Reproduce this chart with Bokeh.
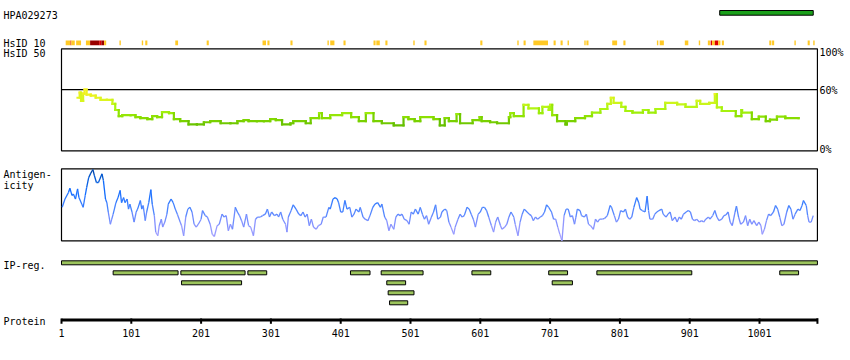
from bokeh.plotting import figure
from bokeh.models import Range1d
from bokeh.core.properties import value
from bokeh.embed import file_html
from bokeh.resources import INLINE

# ---------------- data ----------------
ANTIBODY = "HPA029273"
PROTEIN_LEN = 1084
ANTIGEN_START, ANTIGEN_END = 944, 1078

# HsID 10 identity marks: start, end, level (1 = partial, 2 = high, 3 = very high)
HS10_START = [7, 14, 15, 22, 36, 42, 55, 58, 62, 84, 116, 121, 164, 209, 289, 296, 329, 382, 386, 405,
              448, 452, 465, 505, 521, 601, 654, 663, 677, 706, 716, 726, 750, 753, 790, 806, 854, 858,
              894, 914, 927, 931, 933, 937, 942, 947, 1015, 1019, 1051, 1070, 1078]
HS10_END = [14, 15, 20, 29, 42, 55, 58, 62, 65, 86, 118, 124, 168, 212, 294, 299, 332, 384, 392, 408,
            451, 457, 468, 507, 524, 604, 656, 666, 698, 709, 719, 728, 752, 756, 797, 809, 856, 864,
            899, 916, 930, 933, 937, 942, 945, 950, 1018, 1022, 1053, 1073, 1080]
HS10_LEVEL = [1, 2, 1, 1, 1, 3, 2, 3, 1, 1, 1, 1, 1, 1, 1, 1, 1, 1, 1, 1,
              1, 1, 1, 1, 1, 1, 1, 1, 1, 1, 1, 1, 1, 1, 1, 1, 1, 1,
              1, 1, 1, 2, 1, 2, 1, 1, 1, 1, 1, 1, 1]

# HsID 50 (percent identity), step line
H50_POS = [24, 27, 29, 32, 34, 37, 43, 50, 57, 66,
           74, 78, 83, 88, 100, 107, 114, 124, 131, 138,
           145, 155, 162, 171, 183, 195, 205, 214, 229, 243,
           253, 262, 269, 281, 291, 300, 308, 317, 329, 333,
           351, 358, 370, 374, 386, 403, 416, 427, 437, 448,
           460, 477, 491, 498, 507, 515, 534, 543, 550, 556,
           567, 572, 590, 600, 603, 615, 625, 642, 644, 649,
           663, 670, 685, 690, 699, 701, 704, 711, 723, 725,
           737, 751, 761, 773, 783, 788, 792, 803, 809, 819,
           834, 842, 852, 866, 883, 895, 911, 916, 929, 937,
           940, 947, 967, 975, 976, 990, 1000, 1010, 1016, 1026,
           1038, 1057]
H50_VAL = [52, 57, 49, 56, 60, 55, 54, 52, 50, 50,
           46, 40, 34, 35, 35, 33, 32, 31, 34, 33,
           38, 37, 31, 29, 26, 26, 28, 29, 27, 27,
           29, 30, 29, 29, 29, 31, 30, 26, 27, 29,
           27, 32, 37, 32, 35, 37, 33, 29, 37, 29,
           27, 25, 33, 31, 29, 33, 31, 25, 32, 29,
           36, 27, 30, 33, 29, 28, 27, 33, 37, 34,
           45, 41.5, 37, 43, 40, 45, 35, 29, 26, 29,
           32, 34, 37.5, 41, 46, 52, 47, 43, 39, 37.5,
           40, 37.5, 41, 47, 45.5, 43, 49, 46, 47, 55.5,
           42.5, 39, 34, 40, 37.5, 31, 33.5, 29, 30.5, 33.5,
           32, 32]

# Antigenicity (relative, 0-100)
AG_POS = [2, 6, 11, 13, 16, 18, 21, 24, 26, 30,
          32, 35, 37, 40, 43, 46, 48, 51, 54, 56,
          59, 61, 64, 66, 68, 71, 73, 75, 79, 82,
          85, 87, 90, 92, 95, 97, 99, 102, 105, 108,
          110, 114, 116, 118, 121, 123, 126, 129, 131, 134,
          136, 139, 141, 144, 146, 149, 152, 154, 158, 161,
          164, 167, 171, 173, 176, 179, 182, 185, 188, 191,
          194, 197, 201, 203, 207, 210, 214, 217, 220, 224,
          227, 231, 234, 237, 240, 243, 246, 250, 253, 256,
          259, 262, 266, 269, 272, 276, 279, 282, 286, 289,
          293, 296, 299, 302, 306, 310, 312, 315, 318, 322,
          324, 326, 330, 333, 337, 341, 344, 347, 350, 353,
          356, 359, 362, 366, 369, 373, 376, 380, 384, 386,
          390, 393, 396, 398, 401, 404, 407, 410, 414, 417,
          420, 423, 427, 429, 433, 436, 440, 443, 447, 450,
          454, 458, 460, 464, 467, 470, 473, 477, 480, 483,
          486, 489, 492, 496, 499, 502, 505, 508, 512, 515,
          518, 521, 524, 527, 531, 534, 537, 540, 544, 546,
          550, 553, 556, 559, 563, 565, 569, 572, 575, 578,
          582, 585, 588, 591, 594, 598, 601, 604, 607, 610,
          613, 617, 620, 623, 626, 630, 632, 636, 639, 642,
          645, 649, 651, 655, 658, 661, 664, 668, 671, 674,
          677, 680, 683, 687, 690, 693, 696, 699, 703, 706,
          709, 712, 715, 718, 721, 724, 727, 730, 733, 736,
          738, 740, 744, 746, 750, 753, 756, 759, 763, 766,
          769, 772, 776, 779, 783, 787, 789, 793, 796, 799,
          802, 806, 809, 812, 815, 818, 821, 825, 828, 830,
          833, 837, 840, 842, 844, 848, 851, 854, 857, 861,
          863, 867, 870, 873, 876, 880, 883, 886, 889, 892,
          896, 899, 902, 905, 908, 911, 915, 918, 921, 924,
          928, 930, 934, 937, 940, 943, 947, 950, 953, 956,
          959, 962, 966, 968, 971, 974, 978, 981, 984, 987,
          990, 993, 997, 1000, 1003, 1005, 1008, 1011, 1014, 1017,
          1021, 1024, 1027, 1030, 1033, 1036, 1040, 1043, 1046, 1049,
          1052, 1056, 1059, 1062, 1064, 1068, 1070, 1072, 1075, 1078]
AG_VAL = [46.5, 58, 67, 73, 63, 65, 58, 72, 60, 51,
          46.5, 63, 74, 88, 94, 99, 91, 81, 81, 86,
          93, 84, 58, 53, 40, 23, 30, 37, 53, 60,
          70, 53, 60, 53, 58, 44, 51, 40, 26, 40,
          44, 56, 44, 49, 28, 40, 53, 71, 51, 35,
          12, 7, 21, 30, 19, 26, 37, 51, 58, 53,
          44, 37, 26, 21, 7, 33, 44, 46.5, 40, 23,
          19, 23, 30, 42, 35, 33, 23, 9, 6, 21,
          23, 37, 33, 35, 14, 23, 16, 46.5, 40, 35,
          28, 19, 37, 21, 19, 7, 30, 33, 33, 35,
          37, 44, 33, 40, 35, 37, 33, 40, 30, 23,
          12, 33, 42, 50, 44, 37, 35, 40, 33, 37,
          21, 30, 19, 16, 21, 23, 33, 33, 46.5, 44,
          58, 60, 58, 53, 40, 40, 56, 44, 46.5, 33,
          37, 44, 40, 46.5, 33, 30, 28, 35, 46.5, 51,
          53, 46.5, 51, 33, 28, 14, 23, 16, 33, 37,
          35, 37, 30, 28, 23, 40, 37, 44, 37, 46.5,
          37, 30, 35, 23, 33, 40, 50, 30, 33, 40,
          44, 42, 26, 19, 9, 19, 30, 37, 33, 35,
          46.5, 44, 37, 30, 19, 37, 40, 46.5, 46.5, 42,
          33, 21, 12, 26, 33, 21, 16, 19, 23, 33,
          40, 33, 23, 7, 26, 37, 44, 40, 37, 35,
          28, 33, 30, 33, 35, 40, 50, 46.5, 40, 30,
          30, 19, 9, 0, 35, 44, 44, 33, 35, 23,
          33, 44, 42, 35, 33, 37, 23, 21, 16, 30,
          26, 30, 30, 31, 35, 49, 46.5, 35, 26, 30,
          42, 40, 44, 33, 30, 33, 46.5, 60, 53, 44,
          42, 40, 62, 42, 30, 30, 37, 40, 42, 44,
          37, 33, 37, 40, 28, 33, 26, 33, 30, 37,
          40, 42, 40, 30, 28, 30, 26, 28, 26, 30,
          33, 30, 35, 42, 33, 28, 30, 35, 36, 40,
          26, 21, 40, 48, 33, 23, 26, 35, 21, 30,
          23, 28, 21, 26, 21, 9, 16, 28, 37, 35,
          40, 49, 44, 33, 21, 23, 40, 49, 44, 30,
          37, 44, 42, 49, 56, 49, 35, 26, 26, 35]

# InterPro regions: start, end, row
IP_START = [1, 75, 172, 268, 415, 459, 589, 699, 768, 1030, 173, 467, 704, 469, 471]
IP_END = [1084, 168, 264, 295, 443, 519, 616, 726, 904, 1057, 259, 494, 733, 506, 497]
IP_ROW = [0, 1, 1, 1, 1, 1, 1, 1, 1, 1, 2, 2, 2, 3, 4]

TICK_POS = [1, 101, 201, 301, 401, 501, 601, 701, 801, 901, 1001]
TICK_LABELS = ["1", "101", "201", "301", "401", "501", "601", "701", "801", "901", "1001"]

HS50_LABELS = ["100%", "60%", "0%"]
HS50_LABEL_VALUES = [100, 60, 0]

# ---------------- layout ----------------
W, H = 850, 360
X_R1 = 61                    # canvas x of residue 1
PX_PER_RES = 0.698
FONT = value("DejaVu Sans Mono")


def lin_range(va, ya, vb, yb):
    k = (yb - ya) / (vb - va)
    return Range1d(start=va + (H - ya) / k, end=va - ya / k)


def interp_color(v, stops):
    if v <= stops[0][0]:
        c = stops[0][1]
    elif v >= stops[-1][0]:
        c = stops[-1][1]
    else:
        for (v0, c0), (v1, c1) in zip(stops[:-1], stops[1:]):
            if v0 <= v <= v1:
                t = (v - v0) / (v1 - v0)
                c = tuple(int(round(a + (b - a) * t)) for a, b in zip(c0, c1))
                break
    return "#%02x%02x%02x" % c


HS_STOPS = [(25, (0x66, 0xc0, 0x00)), (32, (0x88, 0xdd, 0x00)), (40, (0xaa, 0xf5, 0x10)),
            (50, (0xdd, 0xf5, 0x20)), (58, (0xf8, 0xf0, 0x20))]
AG_STOPS = [(0, (0xb4, 0xa8, 0xff)), (25, (0x80, 0x90, 0xff)), (45, (0x48, 0x84, 0xff)),
            (70, (0x10, 0x6c, 0xff)), (90, (0x00, 0x55, 0xcc)), (100, (0x00, 0x40, 0x99))]
HS10_COLORS = {1: "#ffc926", 2: "#dd0000", 3: "#990000"}

p = figure(width=W, height=H,
           x_range=Range1d(1 - X_R1 / PX_PER_RES, 1 + (W - X_R1) / PX_PER_RES),
           y_range=Range1d(H, 0),
           x_axis_type=None, y_axis_type=None,
           toolbar_location=None, output_backend="svg",
           min_border=0, outline_line_color=None)
p.background_fill_color = "white"
p.border_fill_color = "white"
p.extra_x_ranges = {"px": Range1d(0, W)}
p.extra_y_ranges = {
    "hs": lin_range(100, 48.3, 0, 150.3),
    "ag": lin_range(100, 168.3, 0, 240.3),
    "ip": lin_range(0, 262.3, 4, 302.3),
}

# antigen bar
p.quad(left=[ANTIGEN_START], right=[ANTIGEN_END], top=[10], bottom=[14.7],
       fill_color="#1aa01a", line_color="black", line_width=1)

# HsID 10 strip
p.quad(left=HS10_START, right=HS10_END, top=[40] * len(HS10_START),
       bottom=[44.7] * len(HS10_START),
       fill_color=[HS10_COLORS[l] for l in HS10_LEVEL], line_color=None)

# HsID 50 panel
p.quad(left=[1], right=[PROTEIN_LEN], bottom=[0], top=[100], y_range_name="hs",
       fill_color=None, line_color="black", line_width=1.2)
p.segment(x0=[1], x1=[PROTEIN_LEN], y0=[60], y1=[60], y_range_name="hs",
          line_color="black", line_width=1.2)
sx0, sx1, sy0, sy1, sc = [], [], [], [], []
for i in range(len(H50_POS) - 1):
    c = interp_color(H50_VAL[i], HS_STOPS)
    sx0.append(H50_POS[i]); sx1.append(H50_POS[i + 1]); sy0.append(H50_VAL[i]); sy1.append(H50_VAL[i]); sc.append(c)
    c2 = interp_color(min(H50_VAL[i], H50_VAL[i + 1]), HS_STOPS)
    sx0.append(H50_POS[i + 1]); sx1.append(H50_POS[i + 1]); sy0.append(H50_VAL[i]); sy1.append(H50_VAL[i + 1]); sc.append(c2)
p.segment(x0=sx0, x1=sx1, y0=sy0, y1=sy1, line_color=sc, line_width=2.2,
          line_cap="square", y_range_name="hs")

# Antigenicity panel
p.quad(left=[1], right=[PROTEIN_LEN], bottom=[0], top=[100], y_range_name="ag",
       fill_color=None, line_color="black", line_width=1.2)
axs, ays, acs = [], [], []
for i in range(len(AG_POS) - 1):
    axs.append([AG_POS[i], AG_POS[i + 1]])
    ays.append([AG_VAL[i], AG_VAL[i + 1]])
    acs.append(interp_color((AG_VAL[i] + AG_VAL[i + 1]) / 2, AG_STOPS))
p.multi_line(xs=axs, ys=ays, line_color=acs, line_width=1.3, y_range_name="ag")

# IP regions
p.quad(left=IP_START, right=IP_END, top=[r - 0.2 for r in IP_ROW], bottom=[r + 0.2 for r in IP_ROW],
       y_range_name="ip", fill_color="#9cc45c", line_color="black", line_width=1)

# Protein axis
p.segment(x0=[1], x1=[PROTEIN_LEN], y0=[319.5], y1=[319.5], line_color="black", line_width=3)
p.segment(x0=TICK_POS, x1=TICK_POS, y0=[318] * len(TICK_POS), y1=[323.3] * len(TICK_POS),
          line_color="black", line_width=2)
p.segment(x0=[PROTEIN_LEN], x1=[PROTEIN_LEN], y0=[317.7], y1=[323.3],
          line_color="black", line_width=2)
p.text(x=TICK_POS, y=[332.3] * len(TICK_POS), text=TICK_LABELS, text_font=FONT,
       text_font_size="10px", text_align="center", text_baseline="alphabetic", text_color="black")

# right-hand percent labels
p.text(x=[PROTEIN_LEN + 3] * 3, y=[v for v in HS50_LABEL_VALUES], text=HS50_LABELS,
       y_range_name="hs", text_font=FONT, text_font_size="10px", text_align="left",
       text_baseline="middle", y_offset=[4, 1, -1], text_color="black")

# left labels
left_text = [ANTIBODY, "HsID 10", "HsID 50", "Antigen-", "icity", "IP-reg.", "Protein"]
left_y = [14.5, 43.3, 53.3, 174, 184.7, 264.5, 321.3]
p.text(x=[3] * len(left_text), y=left_y, text=left_text, x_range_name="px",
       text_font=FONT, text_font_size="10px", text_align="left", text_baseline="alphabetic",
       text_color="black")

open("out.html", "w").write(file_html(p, INLINE))
